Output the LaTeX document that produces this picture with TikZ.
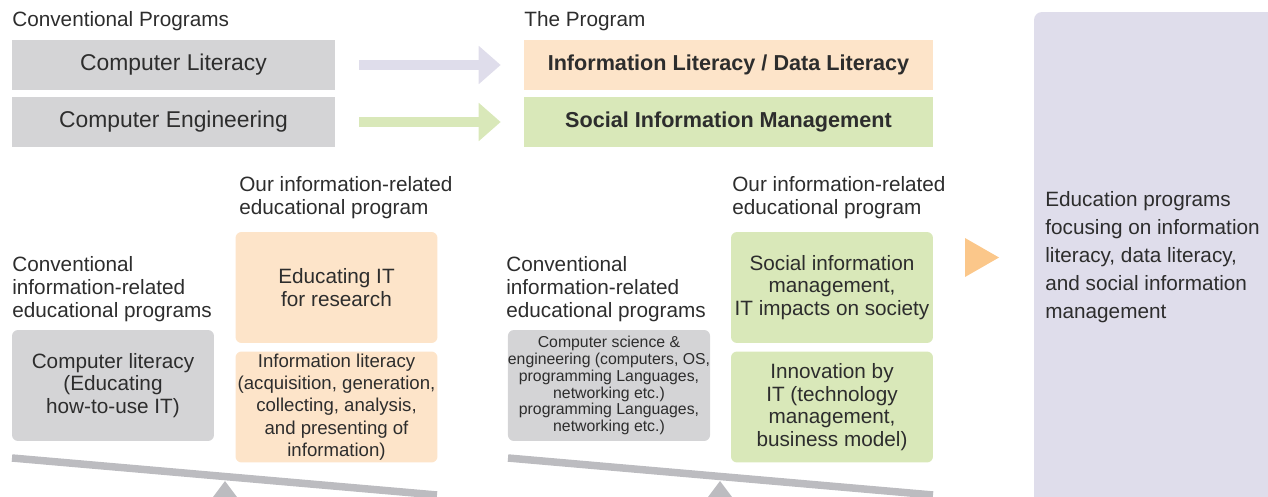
\documentclass[tikz,border=0pt]{standalone}
\usepackage{fontspec}
\setmainfont{Liberation Sans}
\usetikzlibrary{arrows.meta}
\definecolor{txt}{RGB}{45,45,45}
\definecolor{greyfill}{RGB}{212,212,214}
\definecolor{orangefill}{RGB}{253,228,201}
\definecolor{greenfill}{RGB}{217,232,185}
\definecolor{lavfill}{RGB}{223,221,235}
\definecolor{beamgrey}{RGB}{188,188,192}
\definecolor{pointer}{RGB}{251,199,138}

\begin{document}
\begin{tikzpicture}[x=0.02cm,y=-0.02cm,
  every node/.style={text=txt,font=\fontsize{11.8}{12.9}\selectfont},
  label/.style={anchor=west,align=left,inner sep=0pt},
  topbox/.style={minimum height=1cm,minimum width=6.46cm,inner sep=0pt,font=\fontsize{13}{15}\selectfont},
  newbox/.style={minimum height=1cm,minimum width=8.18cm,inner sep=0pt,font=\bfseries\fontsize{12.3}{15}\selectfont},
  lowbox/.style={rounded corners=0.12cm,minimum width=4.04cm,minimum height=2.22cm,inner sep=0pt,align=center},
  fatarrow/.style={line width=0.2cm,-{Triangle[length=0.44cm,width=0.74cm]},shorten <=0.48cm,shorten >=0.46cm},
  beam/.style={line width=0.15cm,beamgrey}]
\useasboundingbox (0,0) rectangle (1268,497);

\node[label] (convtitle) at (12,21) {Conventional Programs};
\node[label] (newtitle) at (524,21) {The Program};

\node[topbox,fill=greyfill] (litold) at (173.5,65) {Computer Literacy};
\node[topbox,fill=greyfill] (engold) at (173.5,122) {Computer Engineering};
\node[newbox,fill=orangefill] (infolit) at (728.5,65) {Information Literacy / Data Literacy};
\node[newbox,fill=greenfill] (socinfo) at (728.5,122) {Social Information Management};

\draw[fatarrow,lavfill] (litold) -- (infolit);
\draw[fatarrow,greenfill] (engold) -- (socinfo);

% left seesaw
\node[label] (convleft) at (12,289) {Conventional\\information-related\\educational programs};
\node[label] (ourleft) at (239,197.5) {Our information-related\\educational program};
\node[lowbox,fill=greyfill] (complit) at (113,385.5) {Computer literacy\\(Educating\\how-to-use IT)};
\node[lowbox,fill=orangefill] (itres) at (336.5,287.5) {Educating IT\\for research};
\node[lowbox,fill=orangefill,font=\fontsize{10.6}{12.75}\selectfont] (infolitbox) at (336.5,407) {Information literacy\\(acquisition, generation,\\collecting, analysis,\\and presenting of\\information)};
\draw[beam] (12,458) -- (437,495);
\fill[beamgrey] (213,497) -- (225,481) -- (237,497) -- cycle;

% right seesaw
\node[label] (convright) at (506,289) {Conventional\\information-related\\educational programs};
\node[label] (ourright) at (732,197.5) {Our information-related\\educational program};
\node[lowbox,fill=greyfill,font=\fontsize{9}{9.6}\selectfont] (csbox) at (609,385.5) {Computer science \&\\engineering (computers, OS,\\programming Languages,\\networking etc.)\\programming Languages,\\networking etc.)};
\node[lowbox,fill=greenfill] (socimp) at (832,287.5) {Social information\\management,\\IT impacts on society};
\node[lowbox,fill=greenfill] (innov) at (832,407) {Innovation by\\IT (technology\\management,\\business model)};
\draw[beam] (508,458) -- (933,495);
\fill[beamgrey] (708,497) -- (720,481) -- (732,497) -- cycle;

\fill[pointer] (965,238) -- (999,257.5) -- (965,277) -- cycle;

\fill[lavfill] (1034,497) -- (1034,20) .. controls (1034,15.6) and (1037.6,12) .. (1042,12) -- (1268,12) -- (1268,497) -- cycle;
\node[label,font=\fontsize{11.8}{15.9}\selectfont] (goal) at (1045,257) {Education programs\\focusing on information\\literacy, data literacy,\\and social information\\management};

\end{tikzpicture}
\end{document}
